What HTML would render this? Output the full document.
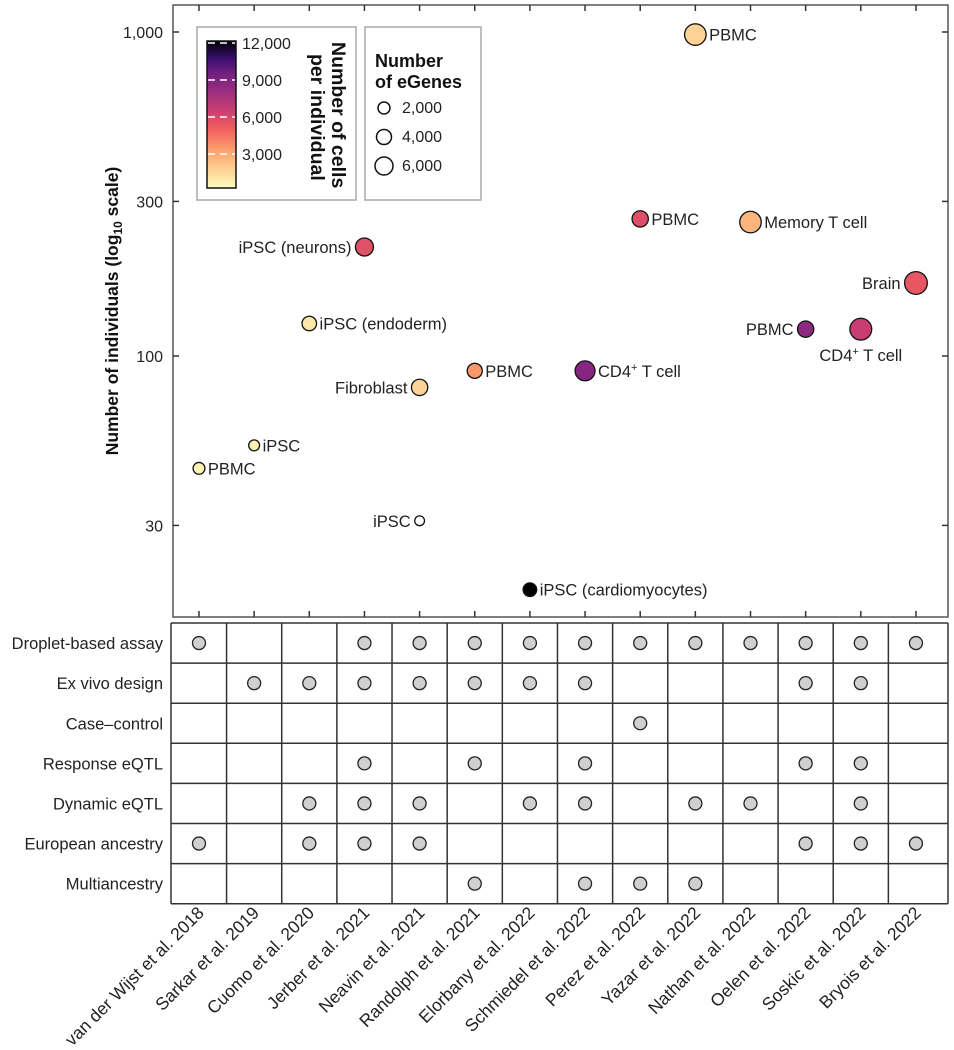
<!DOCTYPE html>
<html><head><meta charset="utf-8"><style>
body{margin:0;background:#fff}
svg{display:block;font-family:"Liberation Sans",sans-serif}
</style></head><body>
<svg id="chart" width="954" height="1050" viewBox="0 0 954 1050">
<defs>
<linearGradient id="magma" x1="0" y1="1" x2="0" y2="0">
<stop offset="0" stop-color="#fcfdbf"/><stop offset="0.12" stop-color="#fed395"/><stop offset="0.25" stop-color="#fca36f"/><stop offset="0.4" stop-color="#f1605d"/><stop offset="0.52" stop-color="#cd4071"/><stop offset="0.65" stop-color="#9e2f7f"/><stop offset="0.78" stop-color="#721f81"/><stop offset="0.88" stop-color="#3b0f70"/><stop offset="1" stop-color="#000004"/>
</linearGradient>
</defs>
<g id="plot"></g>
<g id="legend">
<rect x="197" y="27" width="159" height="173" fill="#fff" stroke="#aaa" stroke-width="1.5"/>
<rect x="207" y="41" width="29" height="147" fill="url(#magma)" stroke="#111" stroke-width="1.5"/>
<g stroke="#fff" stroke-width="1.5" stroke-dasharray="7,5">
<line x1="208" x2="235" y1="43" y2="43"/><line x1="208" x2="235" y1="80" y2="80"/><line x1="208" x2="235" y1="117" y2="117"/><line x1="208" x2="235" y1="154" y2="154"/>
</g>
<g font-size="16" fill="#222">
<text x="242" y="49">12,000</text>
<text x="242" y="86">9,000</text>
<text x="242" y="123">6,000</text>
<text x="242" y="160">3,000</text>
</g>
<text transform="translate(332,42) rotate(90)" font-size="19.5" font-weight="bold" fill="#111"><tspan x="0" y="0">Number of cells</tspan><tspan x="12" y="21">per individual</tspan></text>
<rect x="365" y="27" width="116" height="173" fill="#fff" stroke="#aaa" stroke-width="1.5"/>
<text x="375" y="67" font-size="18" font-weight="bold" fill="#111"><tspan x="375" y="67">Number</tspan><tspan x="375" y="88">of eGenes</tspan></text>
<circle cx="384" cy="108" r="6" fill="none" stroke="#111" stroke-width="1.5"/>
<circle cx="384" cy="137" r="7.5" fill="none" stroke="#111" stroke-width="1.5"/>
<circle cx="384" cy="166" r="9" fill="none" stroke="#111" stroke-width="1.5"/>
<g font-size="16" fill="#222"><text x="402" y="113">2,000</text><text x="402" y="142">4,000</text><text x="402" y="171">6,000</text></g>
</g>
<g id="table"></g>
</svg>
<script>
const studies=["van der Wijst et al. 2018","Sarkar et al. 2019","Cuomo et al. 2020","Jerber et al. 2021","Neavin et al. 2021","Randolph et al. 2021","Elorbany et al. 2022","Schmiedel et al. 2022","Perez et al. 2022","Yazar et al. 2022","Nathan et al. 2022","Oelen et al. 2022","Soskic et al. 2022","Bryois et al. 2022"];
const ptStudy=[0,1,2,3,4,4,5,6,7,8,9,10,11,12,13];
const ptLabel=["PBMC","iPSC","iPSC (endoderm)","iPSC (neurons)","Fibroblast","iPSC","PBMC","iPSC (cardiomyocytes)","CD4+ T cell","PBMC","PBMC","Memory T cell","PBMC","CD4+ T cell","Brain"];
const ptIndividuals=[45,53,126,217,80,31,90,19,90,265,982,259,121,121,168];
const ptCells=[300,400,800,5500,1400,0,3300,12000,8700,5600,1500,2400,8400,6400,5200];
const ptEgenes=[700,500,1500,3000,2200,300,1700,1200,4000,2200,5000,5000,2200,5200,5800];
const ptLabelPos=["r","r","r","l","l","l","r","r","r","r","r","r","l","b","l"];
const yTicks=[30,100,300,1000];
const yTickLabels=["30","100","300","1,000"];
const features=["Droplet-based assay","Ex vivo design","Case\u2013control","Response  eQTL","Dynamic eQTL","European ancestry","Multiancestry"];
const featRows=[[0,5],[1],[1,4,5],[0,1,3,4,5],[0,1,4,5],[0,1,3,6],[0,1,4],[0,1,3,4,6],[0,2,6],[0,4,6],[0,4],[0,1,3,5],[0,1,3,4,5],[0,5]];

const NS="http://www.w3.org/2000/svg";
function mk(tag,attrs,parent,text){const e=document.createElementNS(NS,tag);for(const k in attrs)e.setAttribute(k,attrs[k]);if(text!==undefined)e.textContent=text;parent.appendChild(e);return e;}
const L=173,R=948,T=5,B=617;
const xPos=i=>199+i*55.15;
const yPos=v=>32+(3-Math.log10(v))*324;
const rSize=g=>3+Math.sqrt(g/6000)*8.5;
const magma=[[0,"#fcfdbf"],[0.12,"#fed395"],[0.25,"#fca36f"],[0.4,"#f1605d"],[0.52,"#cd4071"],[0.65,"#9e2f7f"],[0.78,"#721f81"],[0.88,"#3b0f70"],[1,"#000004"]];
function hex(h){return [1,3,5].map(i=>parseInt(h.substr(i,2),16));}
function color(c){if(c<=0)return "#ffffff";let t=Math.max(0,Math.min(1,c/12000));for(let i=1;i<magma.length;i++){if(t<=magma[i][0]){const a=magma[i-1],b=magma[i];const f=(t-a[0])/(b[0]-a[0]);const A=hex(a[1]),Bc=hex(b[1]);return "rgb("+A.map((v,k)=>Math.round(v+(Bc[k]-v)*f)).join(",")+")";}}return "#1a1a1a";}

const plot=document.getElementById("plot");
const frame=mk("rect",{x:L,y:T,width:R-L,height:B-T,fill:"none",stroke:"#555","stroke-width":1.5},plot);


studies.forEach((s,i)=>{const x=xPos(i);
 mk("line",{x1:x,x2:x,y1:B,y2:B-6,stroke:"#333","stroke-width":1.5},plot);
 mk("line",{x1:x,x2:x,y1:T,y2:T+6,stroke:"#333","stroke-width":1.5},plot);});
yTicks.forEach((v,i)=>{const y=yPos(v);
 mk("line",{x1:L,x2:L+6,y1:y,y2:y,stroke:"#333","stroke-width":1.5},plot);
 mk("line",{x1:R,x2:R-6,y1:y,y2:y,stroke:"#333","stroke-width":1.5},plot);
 const t=mk("text",{x:L-10,y:y+6,"text-anchor":"end","font-size":16,fill:"#222"},plot,yTickLabels[i]);
 
 });
const yt=mk("text",{transform:"translate(118,311) rotate(-90)","text-anchor":"middle","font-size":17.5,"font-weight":"bold",fill:"#111"},plot);


mk("tspan",{},yt,"Number of individuals (log");mk("tspan",{"font-size":12,dy:4},yt,"10");mk("tspan",{dy:-4},yt," scale)");

ptStudy.forEach((si,i)=>{const x=xPos(si),y=yPos(ptIndividuals[i]),r=rSize(ptEgenes[i]);
 const c=mk("circle",{cx:x,cy:y,r:r,fill:color(ptCells[i]),stroke:"#111","stroke-width":1.3},plot);
 
 
 const pos=ptLabelPos[i];let tx=x+r+3,ty=y+6,anc="start";
 if(pos==="l"){tx=x-r-4;anc="end";} if(pos==="b"){tx=x;ty=y+r+21;anc="middle";}
 const lab=ptLabel[i];const t=mk("text",{x:tx,y:ty,"text-anchor":anc,"font-size":16.5,fill:"#222"},plot);
 if(lab.indexOf("+")>=0){const p=lab.split("+");mk("tspan",{},t,p[0]);mk("tspan",{"font-size":11,dy:-6},t,"+");mk("tspan",{dy:6},t,p[1]);}else t.textContent=lab;
 
 });

const tab=document.getElementById("table");
const TT=623,RH=40.1,TL=171;
features.forEach((f,r)=>{const t=mk("text",{x:163,y:TT+RH*r+RH/2+6,"text-anchor":"end","font-size":16.5,fill:"#222"},tab,f);
 
 });
for(let r=0;r<=features.length;r++){const y=TT+RH*r;mk("line",{x1:TL,x2:R,y1:y,y2:y,stroke:"#333","stroke-width":1.5},tab);}
for(let i=0;i<=studies.length;i++){const x=i===0?TL:(i===studies.length?R:(xPos(i-1)+xPos(i))/2);mk("line",{x1:x,x2:x,y1:TT,y2:TT+RH*features.length,stroke:"#333","stroke-width":1.5},tab);}
featRows.forEach((rows,i)=>rows.forEach(r=>{const d=mk("circle",{cx:xPos(i),cy:TT+RH*r+RH/2,r:6.5,fill:"#d0d0d0",stroke:"#222","stroke-width":1.3},tab);
 
 }));
studies.forEach((s,i)=>{const x=xPos(i)+6,y=914;
 const t=mk("text",{transform:"translate("+x+","+y+") rotate(-45)","text-anchor":"end","font-size":17.5,fill:"#222"},tab,s);
 
 });
</script>
</body></html>
